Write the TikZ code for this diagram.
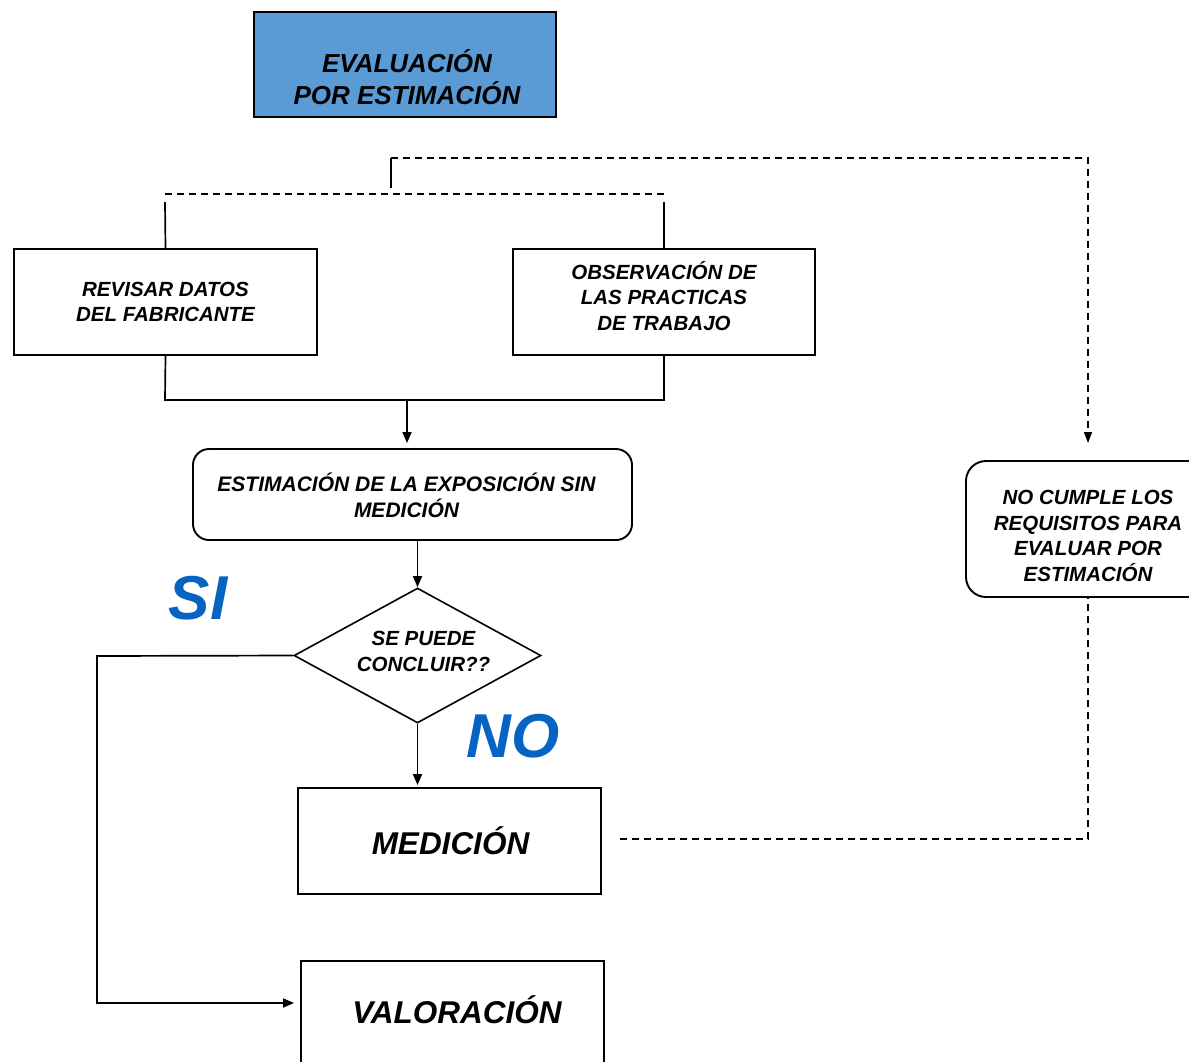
\documentclass[tikz,border=0pt]{standalone}
\usepackage{fontspec}
\setmainfont{Liberation Sans}
\usetikzlibrary{shapes.geometric,arrows.meta}
\definecolor{topblue}{RGB}{91,155,213}
\definecolor{siblue}{RGB}{5,99,193}
\tikzset{
  txt/.style={align=center, inner sep=0pt, font=\fontsize{20.5}{25.5}\selectfont\bfseries\itshape},
  box/.style={draw, line width=1.9pt, inner sep=0pt},
  bigtxt/.style={inner sep=0pt, font=\fontsize{31.5}{36}\selectfont\bfseries\itshape},
  rbox/.style={box, rounded corners=16pt},
  conn/.style={line width=1.7pt},
  arr/.style={conn, -{Triangle[length=11pt,width=9pt]}},
  dsh/.style={line width=1.6pt, dash pattern=on 7pt off 5pt},
  lbl/.style={text=siblue, font=\fontsize{62}{62}\selectfont\bfseries\itshape, inner sep=0pt}
}
\begin{document}
\begin{tikzpicture}[x=1pt,y=-1pt]
\useasboundingbox (0,0) rectangle (1189,1061);
% nodes
\node[box, fill=topblue, minimum width=302pt, minimum height=105pt,
  label={[txt, font=\fontsize{26}{32}\selectfont\bfseries\itshape, yshift=-13pt, xshift=2pt]center:EVALUACIÓN\\POR ESTIMACIÓN}] (top) at (405,64.5) {};
\node[box, minimum width=303pt, minimum height=106pt,
  label={[txt]center:REVISAR DATOS\\DEL FABRICANTE}] (b1) at (165.5,302) {};
\node[box, minimum width=302pt, minimum height=106pt,
  label={[txt, yshift=6pt]center:OBSERVACIÓN DE\\LAS PRACTICAS\\DE TRABAJO}] (b2) at (664,302) {};
\node[rbox, minimum width=439pt, minimum height=91pt,
  label={[txt, font=\fontsize{21}{26}\selectfont\bfseries\itshape, xshift=-6pt, yshift=-1pt]center:ESTIMACIÓN DE LA EXPOSICIÓN SIN\\MEDICIÓN}] (est) at (412.5,494.5) {};
\node[box, shape=diamond, minimum width=247pt, minimum height=135pt, line width=1.6pt,
  label={[txt, xshift=6pt, yshift=4pt]center:SE PUEDE\\CONCLUIR??}] (dec) at (417.5,655.5) {};
\node[box, minimum width=303pt, minimum height=106pt,
  label={[bigtxt, xshift=1pt]center:MEDICIÓN}] (med) at (449.5,841) {};
\node[box, minimum width=303pt, minimum height=106pt, anchor=north] (val) at (452.5,960) {};
\node[bigtxt] (valt) at (457,1010) {VALORACIÓN};
\node[rbox, rounded corners=20pt, minimum width=244pt, minimum height=136pt,
  label={[txt, yshift=-7pt]center:NO CUMPLE LOS\\REQUISITOS PARA\\EVALUAR POR\\ESTIMACIÓN}] (noc) at (1088,529) {};
\node[lbl] (si) at (198,598) {SI};
\node[lbl] (no) at (513,736) {NO};
% coordinates
\coordinate (dA) at (391,188);
\coordinate (dB) at (391,158);
\coordinate (hL) at (165,194);
\coordinate (hR) at (664,194);
\coordinate (vL) at (165,202);
\coordinate (vR) at (664,202);
\coordinate (jL) at (165,400);
\coordinate (jR) at (664,400);
\coordinate (jM) at (407,400);
\coordinate (siL) at (97,656);
\coordinate (dm) at (620,839);
% connectors
\draw[conn] (dA) -- (dB);
\draw[dsh, -{Triangle[length=11pt,width=8pt]}, shorten >=17pt] (dB) -| (noc.north);
\draw[dsh] (hL) -- (hR);
\draw[conn] (vL) -- (b1.north);
\draw[conn] (vR) -- (b2.north);
\draw[conn] (b1.south) -- (jL) -- (jR) -- (b2.south);
\draw[arr, shorten >=5pt] (jM) -- (jM |- est.north);
\draw[arr] (est.south -| dec.north) -- (dec.north);
\draw[arr, shorten >=2pt] (dec.south) -- (dec.south |- med.north);
\draw[arr, shorten >=6pt] (dec.west) -- (siL) |- (val.west |- 0,1003);
\draw[dsh] (dm) -| (noc.south);
\end{tikzpicture}
\end{document}
